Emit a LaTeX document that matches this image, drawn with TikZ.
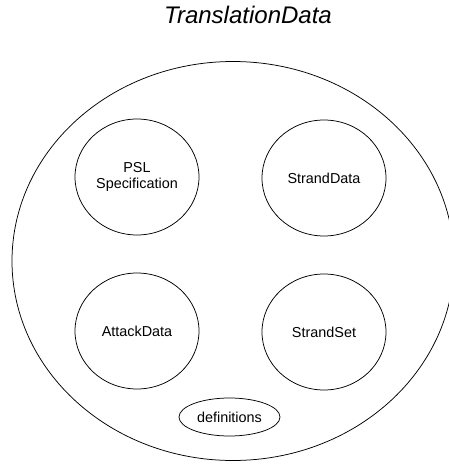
\documentclass[tikz,border=0pt]{standalone}
\usepackage{fontspec}
\setmainfont{Liberation Sans}
\usepackage{tikz}
\usetikzlibrary{shapes.geometric}

\begin{document}
\begin{tikzpicture}[
  x=1pt, y=-1pt,
  part/.style={draw, ellipse, line width=0.75pt, inner sep=0pt, align=center,
    minimum width=124pt, minimum height=116pt, font=\fontsize{14.4}{16}\selectfont},
  whole/.style={draw, ellipse, line width=0.75pt, minimum width=442pt, minimum height=399pt},
  small/.style={draw, ellipse, line width=0.75pt, inner sep=0pt,
    minimum width=101pt, minimum height=38pt, font=\fontsize{14.4}{16}\selectfont}
]
\useasboundingbox (0,0) rectangle (448,464);
\node[font=\fontsize{24}{28}\selectfont\itshape] (title) at (248,15) {TranslationData};
\node[whole] (data) at (233,261) {};
\node[part] (psl) at (137,177) {PSL\\Specification};
\node[part] (stranddata) at (324,178) {StrandData};
\node[part] (attack) at (137,331) {AttackData};
\node[part] (strandset) at (324,332) {StrandSet};
\node[small] (defs) at (229.5,417) {definitions};
\end{tikzpicture}
\end{document}
